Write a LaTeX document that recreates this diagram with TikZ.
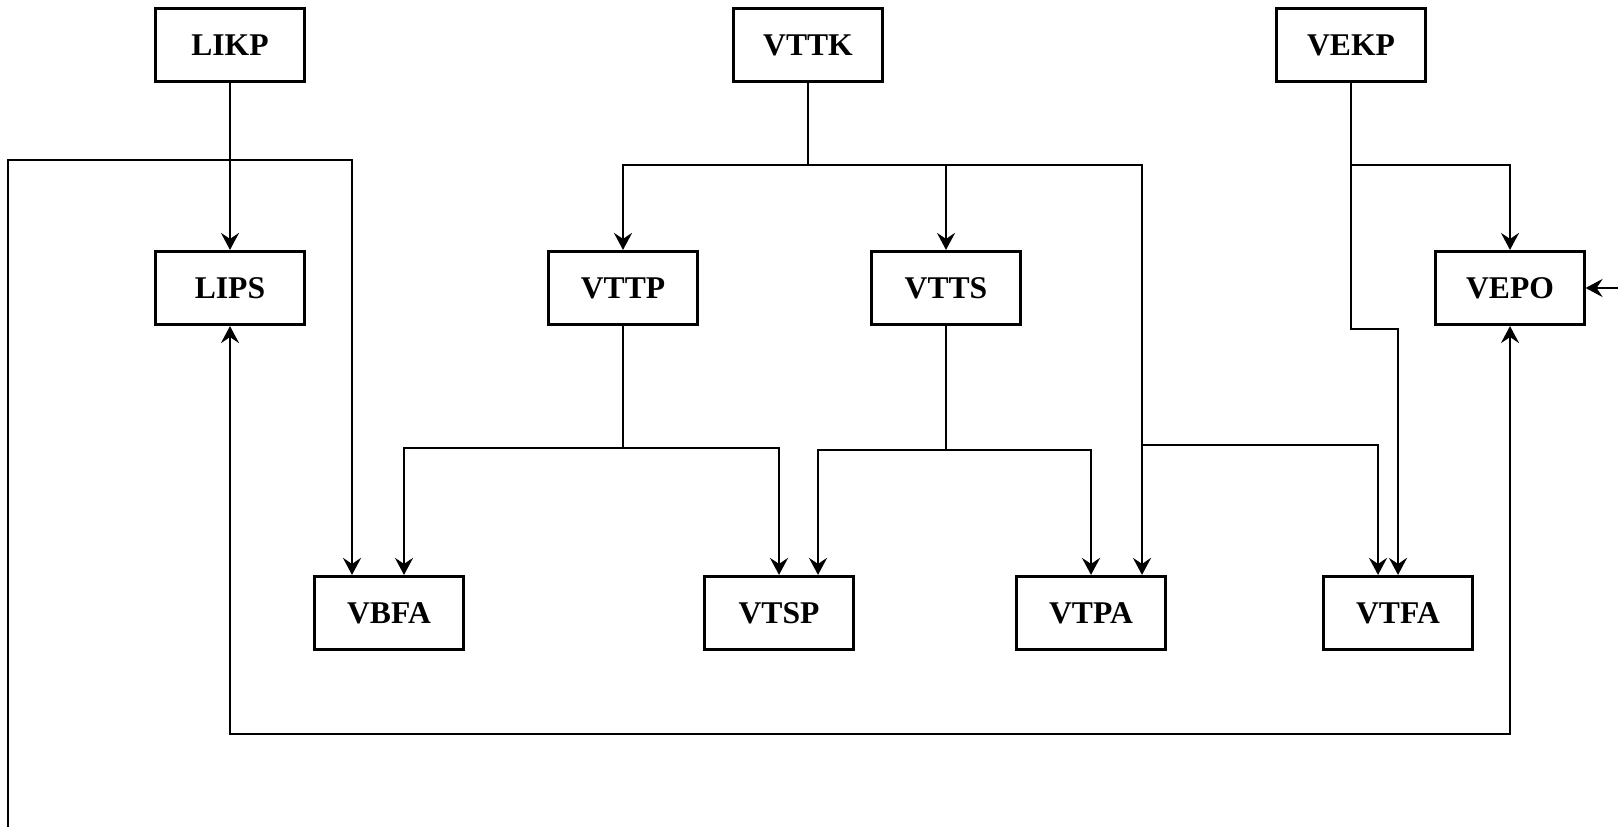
\documentclass[tikz,border=0pt]{standalone}
\usepackage{fontspec}
\setmainfont{Liberation Serif}
\usetikzlibrary{arrows.meta,calc}

\tikzset{
  tbl/.style={draw, line width=1.5pt, minimum width=2.97cm, minimum height=1.47cm, inner sep=0pt,
    font=\fontsize{18}{20}\selectfont\bfseries},
  link/.style={line width=1.5pt, ->}
}

\begin{document}
\begin{tikzpicture}[x=0.02cm, y=-0.02cm, >={Stealth[length=3.4mm,width=3.6mm,inset=1.2mm]}]
\useasboundingbox (0,0) rectangle (1618,827);
% tables
\node[tbl] (likp) at (230,45) {LIKP};
\node[tbl] (vttk) at (808,45) {VTTK};
\node[tbl] (vekp) at (1351,45) {VEKP};
\node[tbl] (lips) at (230,288) {LIPS};
\node[tbl] (vttp) at (623,288) {VTTP};
\node[tbl] (vtts) at (946,288) {VTTS};
\node[tbl] (vepo) at (1510,288) {VEPO};
\node[tbl] (vbfa) at (389,613) {VBFA};
\node[tbl] (vtsp) at (779,613) {VTSP};
\node[tbl] (vtpa) at (1091,613) {VTPA};
\node[tbl] (vtfa) at (1398,613) {VTFA};
% junctions
\coordinate (lend) at (8,827);
\coordinate (lc) at (8,160);
\coordinate (kb) at (808,165);
\coordinate (ab) at (1142,445);
\coordinate (pb) at (623,448);
\coordinate (sb) at (946,450);
\coordinate (eb) at (1351,165);
\coordinate (ek) at (1351,329);
\coordinate (lb) at (230,734);
\coordinate (rend) at (1618,288);
% links
\draw[link] (likp) -- (lips);
\draw[link] (lend) -- (lc) -| ($(vbfa.north)+(-37,0)$);
\draw[line width=1.5pt] (vttk) -- (kb);
\draw[link] (kb) -| (vttp);
\draw[link] (kb) -| (vtts);
\draw[link] (kb) -| ($(vtpa.north)+(51,0)$);
\draw[link] (ab) -| ($(vtfa.north)+(-20,0)$);
\draw[line width=1.5pt] (vttp) -- (pb);
\draw[link] (pb) -| ($(vbfa.north)+(15,0)$);
\draw[link] (pb) -| (vtsp);
\draw[line width=1.5pt] (vtts) -- (sb);
\draw[link] (sb) -| ($(vtsp.north)+(39,0)$);
\draw[link] (sb) -| (vtpa);
\draw[line width=1.5pt] (vekp) -- (eb);
\draw[link] (eb) -| (vepo);
\draw[link] (eb) -- (ek) -| (vtfa);
\draw[link,<->] (lips) -- (lb) -| (vepo);
\draw[link] (rend) -- (vepo);
\end{tikzpicture}
\end{document}
